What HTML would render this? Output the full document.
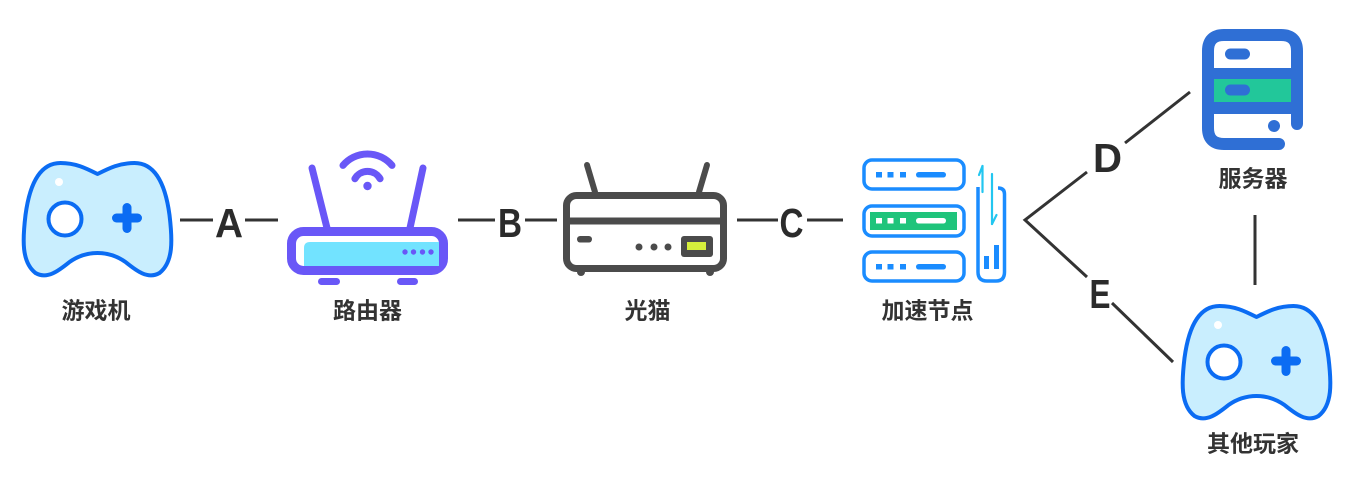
<!DOCTYPE html>
<html>
<head>
<meta charset="utf-8">
<style>
html,body{margin:0;padding:0;background:#fff;}
svg{display:block;}
.lbl{font-family:"Liberation Sans","Noto Sans CJK SC",sans-serif;font-weight:bold;font-size:23px;fill:#333;}
.let{font-family:"Liberation Sans",sans-serif;font-weight:bold;font-size:41px;fill:#2b2b2b;}
</style>
</head>
<body>
<svg width="1357" height="479" viewBox="0 0 1357 479" xmlns="http://www.w3.org/2000/svg">
<defs>
  <g id="pad">
    <path d="M97.5,174 C109.5,168 119.5,163 134.5,163 C155.5,163 165.5,185 169.5,215 C172.5,240 173.5,262 159.5,273 C147.5,280 135.5,270 125.5,262 C115.5,255 105.5,253 97.5,253 C89.5,253 79.5,255 69.5,262 C59.5,270 47.5,280 35.5,273 C21.5,262 22.5,240 25.5,215 C29.5,185 39.5,163 60.5,163 C75.5,163 85.5,168 97.5,174 Z" fill="#c9eefe" stroke="#0b6cf3" stroke-width="4" stroke-linejoin="round"/>
    <circle cx="65" cy="219" r="16.5" fill="#fff" stroke="#0b6cf3" stroke-width="4"/>
    <line x1="116.5" y1="218" x2="137.5" y2="218" stroke="#0b6cf3" stroke-width="9" stroke-linecap="round"/>
    <line x1="127" y1="207.5" x2="127" y2="228.5" stroke="#0b6cf3" stroke-width="9" stroke-linecap="round"/>
    <circle cx="59" cy="182" r="4" fill="#fff"/>
  </g>
</defs>

<!-- Game console -->
<use href="#pad"/>
<text class="lbl" x="96" y="318.5" text-anchor="middle">游戏机</text>

<!-- A -->
<line x1="180" y1="220" x2="213" y2="220" stroke="#333" stroke-width="3"/>
<text class="let" x="229" y="237" text-anchor="middle" textLength="28" lengthAdjust="spacingAndGlyphs">A</text>
<line x1="245" y1="220" x2="278" y2="220" stroke="#333" stroke-width="3"/>

<!-- Router -->
<g stroke="#6957f7" fill="none" stroke-linecap="round">
  <line x1="312" y1="168" x2="327" y2="228" stroke-width="7"/>
  <line x1="423" y1="168" x2="410" y2="228" stroke-width="7"/>
  <path d="M343,165.4 A32,32 0 0 1 392,165.4" stroke-width="7"/>
  <path d="M354.9,178.75 A14.5,14.5 0 0 1 380.1,178.75" stroke-width="7"/>
</g>
<circle cx="367.5" cy="186" r="4.2" fill="#6957f7"/>
<rect x="291.5" y="231.5" width="152" height="39" rx="12" fill="#fff" stroke="#6957f7" stroke-width="9"/>
<path d="M304,248 Q304,242 310,242 L439,242 L439,266 L304,266 Z" fill="#72e3ff"/>
<g fill="#6957f7">
  <circle cx="405" cy="252" r="2.7"/><circle cx="413.5" cy="252" r="2.7"/><circle cx="422.5" cy="252" r="2.7"/><circle cx="431" cy="252" r="2.7"/>
  <rect x="318" y="278" width="22" height="7" rx="3.5"/>
  <rect x="397" y="278" width="21" height="7" rx="3.5"/>
</g>
<text class="lbl" x="367.5" y="318.5" text-anchor="middle">路由器</text>

<!-- B -->
<line x1="458" y1="220" x2="495" y2="220" stroke="#333" stroke-width="3"/>
<text class="let" x="510" y="237" text-anchor="middle" textLength="24" lengthAdjust="spacingAndGlyphs">B</text>
<line x1="525" y1="220" x2="557" y2="220" stroke="#333" stroke-width="3"/>

<!-- Modem -->
<g stroke="#4b4b4b" stroke-linecap="round" fill="none">
  <line x1="587" y1="165" x2="595" y2="192" stroke-width="6"/>
  <line x1="707" y1="165" x2="699" y2="192" stroke-width="6"/>
</g>
<g fill="#4b4b4b">
  <circle cx="581" cy="272" r="4"/><circle cx="710" cy="272" r="4"/>
</g>
<rect x="566.5" y="195.5" width="157" height="73" rx="10" fill="#fff" stroke="#4b4b4b" stroke-width="7"/>
<line x1="566" y1="221" x2="724" y2="221" stroke="#4b4b4b" stroke-width="7"/>
<rect x="577" y="236" width="15" height="6.5" rx="3.2" fill="#4b4b4b"/>
<g fill="#4b4b4b"><circle cx="639" cy="247" r="3.5"/><circle cx="654" cy="247" r="3.5"/><circle cx="668" cy="247" r="3.5"/></g>
<rect x="681" y="236" width="32" height="21" rx="3" fill="#4b4b4b"/>
<rect x="687" y="242" width="19" height="8" fill="#d6ef3c"/>
<text class="lbl" x="647.5" y="318.5" text-anchor="middle">光猫</text>

<!-- C -->
<line x1="737" y1="220" x2="778" y2="220" stroke="#333" stroke-width="3"/>
<text class="let" x="791.5" y="237" text-anchor="middle" textLength="24" lengthAdjust="spacingAndGlyphs">C</text>
<line x1="807" y1="220" x2="843" y2="220" stroke="#333" stroke-width="3"/>

<!-- Acceleration node -->
<g fill="none" stroke="#1a8cff" stroke-width="3.5">
  <rect x="864" y="160" width="100" height="29" rx="8"/>
  <rect x="864" y="206" width="100" height="30" rx="8"/>
  <rect x="864" y="252" width="100" height="29" rx="8"/>
  <path d="M978,187 L978,272 Q978,281 987,281 L996,281 Q1004.5,281 1004.5,272 L1004.5,194 Q1004.5,188 998,188"/>
</g>
<g fill="#1a8cff">
  <rect x="876" y="172" width="6" height="5.5"/><rect x="887.5" y="172" width="6" height="5.5"/><rect x="900" y="172" width="6" height="5.5"/>
  <rect x="916" y="172" width="30" height="5.5" rx="2.7"/>
  <rect x="876" y="264" width="6" height="5.5"/><rect x="887.5" y="264" width="6" height="5.5"/><rect x="900" y="264" width="6" height="5.5"/>
  <rect x="916" y="264" width="30" height="5.5" rx="2.7"/>
  <rect x="984" y="256" width="5" height="13"/>
  <rect x="994" y="245" width="5" height="24"/>
</g>
<rect x="870" y="212" width="87" height="18" fill="#1fc47b"/>
<g fill="#fff">
  <rect x="876" y="218" width="6" height="5.5"/><rect x="887.5" y="218" width="6" height="5.5"/><rect x="900" y="218" width="6" height="5.5"/>
  <rect x="916" y="218" width="30" height="5.5" rx="2.7"/>
</g>
<g stroke="#22c6f0" stroke-width="2.2" fill="none" stroke-linecap="round">
  <line x1="982.5" y1="166" x2="982.5" y2="192"/>
  <line x1="982.5" y1="166" x2="979" y2="175"/>
  <line x1="992" y1="174" x2="992" y2="224"/>
  <line x1="992" y1="224" x2="996.5" y2="215"/>
</g>
<text class="lbl" x="927.5" y="318.5" text-anchor="middle">加速节点</text>

<!-- D / E connectors -->
<g stroke="#333" stroke-width="3" fill="none">
  <polyline points="1087,172 1025,220 1087,277"/>
  <line x1="1125" y1="143" x2="1190" y2="92"/>
  <line x1="1112" y1="303" x2="1173" y2="362"/>
  <line x1="1255" y1="215" x2="1255" y2="285"/>
</g>
<text class="let" x="1107.5" y="172" text-anchor="middle" textLength="29" lengthAdjust="spacingAndGlyphs">D</text>
<text class="let" x="1100" y="308" text-anchor="middle" textLength="21" lengthAdjust="spacingAndGlyphs">E</text>

<!-- Server -->
<rect x="1213" y="79" width="80" height="23" fill="#22c79a"/>
<g stroke="#2f6fd5" stroke-width="12" fill="none" stroke-linecap="round">
  <path d="M1279,144 L1224,144 Q1208,144 1208,128 L1208,51 Q1208,35 1224,35 L1281,35 Q1297,35 1297,51 L1297,124"/>
</g>
<rect x="1213" y="68" width="80" height="11" fill="#2f6fd5"/>
<rect x="1213" y="102" width="80" height="12" fill="#2f6fd5"/>
<rect x="1225" y="48.5" width="25" height="11" rx="5.5" fill="#2f6fd5"/>
<rect x="1225" y="84.5" width="25" height="11" rx="5.5" fill="#2f6fd5"/>
<circle cx="1274" cy="126" r="6" fill="#2f6fd5"/>
<text class="lbl" x="1253" y="186.5" text-anchor="middle">服务器</text>

<!-- Other players -->
<use href="#pad" transform="translate(1159,143)"/>
<text class="lbl" x="1253" y="451.5" text-anchor="middle">其他玩家</text>
</svg>
</body>
</html>
